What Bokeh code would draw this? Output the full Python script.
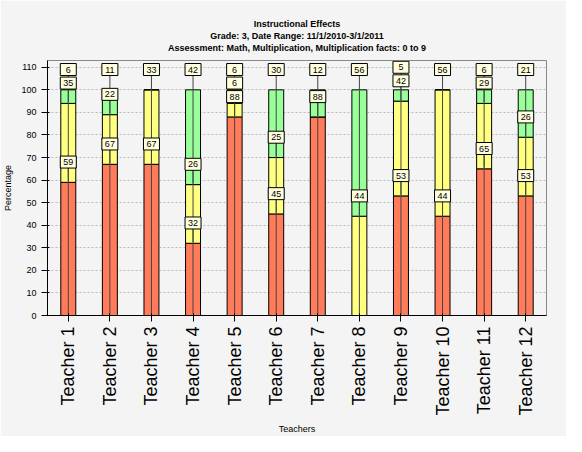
from bokeh.plotting import figure
from bokeh.models import ColumnDataSource, FactorRange, Title
from bokeh.core.properties import value
from bokeh.embed import file_html
from bokeh.resources import INLINE

teachers = ["Teacher %d" % i for i in range(1, 13)]
red = [59, 67, 67, 32, 88, 45, 88, 0, 53, 44, 65, 53]
yellow = [35, 22, 33, 26, 6, 25, 0, 44, 42, 56, 29, 26]
green = [6, 11, 0, 42, 6, 30, 12, 56, 5, 0, 6, 21]
colors = ["#ff7b5a", "#ffff80", "#99ff99"]
titles = ["Instructional Effects", "Grade: 3, Date Range: 11/1/2010-3/1/2011",
          "Assessment: Math, Multiplication, Multiplication facts: 0 to 9"]

p = figure(x_range=FactorRange(*teachers), y_range=(0, 113), width=566, height=436,
           output_backend="svg", toolbar_location=None,
           background_fill_color="#f4f4f4", border_fill_color="#f4f4f4")
p.add_layout(Title(text=" ", text_font_size="6px", standoff=0, offset=0), "above")
for line in reversed(titles):
    p.add_layout(Title(text=line, align="center", text_font_size="9px",
                       text_font="Liberation Sans", text_font_style="bold",
                       text_color="black", standoff=0, offset=0), "above")
p.min_border_top = 60

src = ColumnDataSource(dict(t=teachers, red=red, yellow=yellow, green=green))
p.vbar_stack(["red", "yellow", "green"], x="t", width=0.36, source=src,
             color=colors, line_color="black", line_width=1)

# value labels: placed above segment top, pushed up if they collide
lx, ly, ltxt, sx, sy0, sy1 = [], [], [], [], [], []
for i, t in enumerate(teachers):
    base = 0
    last = -100
    for v in (red[i], yellow[i], green[i]):
        if v > 0:
            top = base + v
            y = min(max(top + 9, last + 6), 111)
            lx.append(t); ly.append(y); ltxt.append(str(v))
            sx.append(t); sy0.append(base + 0.5); sy1.append(y)
            last = y
        base += v
p.segment(x0=sx, y0=sy0, x1=sx, y1=sy1, line_color="#444444", line_width=1)
lab = ColumnDataSource(dict(x=lx, y=ly, txt=ltxt))
p.rect(x="x", y="y", width=16, height=12, width_units="screen", height_units="screen",
       source=lab, fill_color="#ffffe0", line_color="black", line_width=1)
p.text(x="x", y="y", text="txt", source=lab, text_align="center",
       text_baseline="middle", text_font_size="9px",
       text_font=value("Liberation Sans"), text_color="black")

p.yaxis.ticker = list(range(0, 111, 10))
p.yaxis.axis_label = "Percentage"
p.xaxis.axis_label = "Teachers"
for ax in (p.xaxis, p.yaxis):
    ax.axis_label_text_font_size = "9px"
    ax.axis_label_text_font_style = "normal"
    ax.axis_label_text_font = "Liberation Sans"
    ax.axis_label_text_color = "black"
    ax.major_label_text_color = "black"
    ax.major_label_text_font = "Liberation Sans"
p.xaxis.major_label_orientation = 1.5708
p.xaxis.major_label_text_font_size = "18px"
p.yaxis.major_label_text_font_size = "9px"
p.axis.axis_line_color = "black"
p.xgrid.grid_line_color = None
p.ygrid.grid_line_color = "#bbbbbb"
p.ygrid.grid_line_dash = "2 2"
p.outline_line_color = "#888888"
p.min_border_right = 20

open("out.html", "w").write(file_html(p, INLINE))
